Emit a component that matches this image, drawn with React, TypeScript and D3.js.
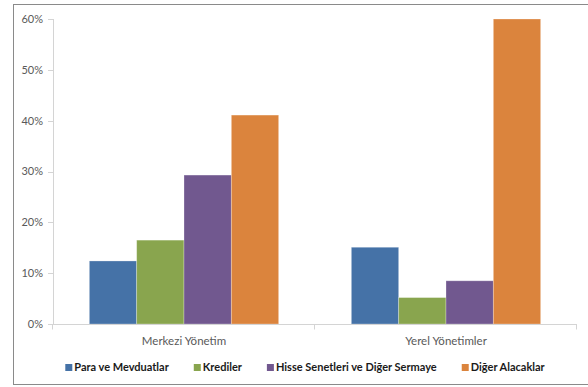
import React, { useEffect, useRef } from "react";
import * as d3 from "d3";

const categories = ["Merkezi Yönetim", "Yerel Yönetimler"];
const seriesNames = [
  "Para ve Mevduatlar",
  "Krediler",
  "Hisse Senetleri ve Diğer Sermaye",
  "Diğer Alacaklar",
];
const seriesColors = ["#4572A7", "#89A54E", "#71588F", "#DB843D"];
// values per category, in series order
const merkeziValues = [0.124, 0.165, 0.293, 0.411];
const yerelValues = [0.151, 0.052, 0.085, 0.6];
const yTicks = [0, 0.1, 0.2, 0.3, 0.4, 0.5, 0.6];

const W = 588;
const H = 387;
const FONT = "Lato, 'Liberation Sans', sans-serif";

export default function App() {
  const ref = useRef<SVGSVGElement | null>(null);

  useEffect(() => {
    const svg = d3.select(ref.current);
    svg.selectAll("*").remove();

    const plot = { left: 53, right: 577, top: 19, bottom: 324 };
    const values = [merkeziValues, yerelValues];

    // chart frame
    svg
      .append("rect")
      .attr("x", 13.5)
      .attr("y", 4.5)
      .attr("width", 620)
      .attr("height", 380)
      .attr("fill", "#fff")
      .attr("stroke", "#8a8a8a")
      .attr("stroke-width", 1);

    const y = d3.scaleLinear().domain([0, 0.6]).range([plot.bottom, plot.top]);
    const x0 = d3
      .scaleBand<string>()
      .domain(categories)
      .range([plot.left, plot.right])
      .paddingInner(0)
      .paddingOuter(0);
    const bw = x0.bandwidth();
    const gap = bw * 0.1387;
    const x1 = d3
      .scaleBand<string>()
      .domain(seriesNames)
      .range([gap, bw - gap])
      .padding(0);

    // bars
    categories.forEach((c, ci) => {
      const g = svg.append("g").attr("transform", `translate(${x0(c)},0)`);
      g.selectAll("rect")
        .data(seriesNames.map((s, si) => ({ s, v: values[ci][si], color: seriesColors[si] })))
        .join("rect")
        .attr("x", (d) => x1(d.s)!)
        .attr("y", (d) => y(d.v))
        .attr("width", x1.bandwidth())
        .attr("height", (d) => y(0) - y(d.v))
        .attr("fill", (d) => d.color)
        .attr("stroke", "rgba(255,255,255,0.35)")
        .attr("stroke-width", 0.8);
    });

    const axisColor = "#d4d4d4";
    const textColor = "#595959";

    // y axis
    const yAxis = svg.append("g");
    yAxis
      .append("line")
      .attr("x1", plot.left + 0.5)
      .attr("x2", plot.left + 0.5)
      .attr("y1", plot.top)
      .attr("y2", plot.bottom)
      .attr("stroke", axisColor);
    yTicks.forEach((t) => {
      const yy = Math.round(y(t)) + 0.5;
      yAxis
        .append("line")
        .attr("x1", plot.left - 5)
        .attr("x2", plot.left)
        .attr("y1", yy)
        .attr("y2", yy)
        .attr("stroke", axisColor);
      yAxis
        .append("text")
        .attr("x", 43)
        .attr("y", y(t))
        .attr("dy", "0.35em")
        .attr("text-anchor", "end")
        .attr("font-family", FONT)
        .attr("font-size", 11)
        .attr("fill", textColor)
        .text(d3.format(".0%")(t));
    });

    // x axis
    const xAxis = svg.append("g");
    const base = Math.round(y(0)) + 0.5;
    xAxis
      .append("line")
      .attr("x1", plot.left)
      .attr("x2", plot.right)
      .attr("y1", base)
      .attr("y2", base)
      .attr("stroke", axisColor);
    [...categories.map((c) => x0(c)!), plot.right].forEach((xx) => {
      xAxis
        .append("line")
        .attr("x1", Math.round(xx) - 0.5)
        .attr("x2", Math.round(xx) - 0.5)
        .attr("y1", base)
        .attr("y2", base + 5)
        .attr("stroke", axisColor);
    });
    categories.forEach((c) => {
      xAxis
        .append("text")
        .attr("x", x0(c)! + bw / 2)
        .attr("y", 345)
        .attr("text-anchor", "middle")
        .attr("font-family", FONT)
        .attr("font-size", 11.5)
        .attr("fill", textColor)
        .text(c);
    });

    // legend
    const legend = svg.append("g");
    const items = seriesNames.map((s, i) => {
      const g = legend.append("g");
      g.append("rect")
        .attr("x", 0)
        .attr("y", -7)
        .attr("width", 7)
        .attr("height", 7)
        .attr("fill", seriesColors[i]);
      const t = g
        .append("text")
        .attr("x", 9)
        .attr("y", 0)
        .attr("font-family", FONT)
        .attr("font-size", 11)
        .attr("font-weight", "bold")
        .attr("fill", "#1a1a1a")
        .text(s);
      const w = 9 + (t.node() as SVGTextElement).getComputedTextLength();
      return { g, w };
    });
    const spacing = 25;
    const total = d3.sum(items, (d) => d.w) + spacing * (items.length - 1);
    let cx = 305 - total / 2;
    items.forEach((it) => {
      it.g.attr("transform", `translate(${cx},371)`);
      cx += it.w + spacing;
    });
  }, []);

  return (
    <svg
      ref={ref}
      width={W}
      height={H}
      style={{ position: "absolute", left: 0, top: 0, display: "block" }}
    />
  );
}
